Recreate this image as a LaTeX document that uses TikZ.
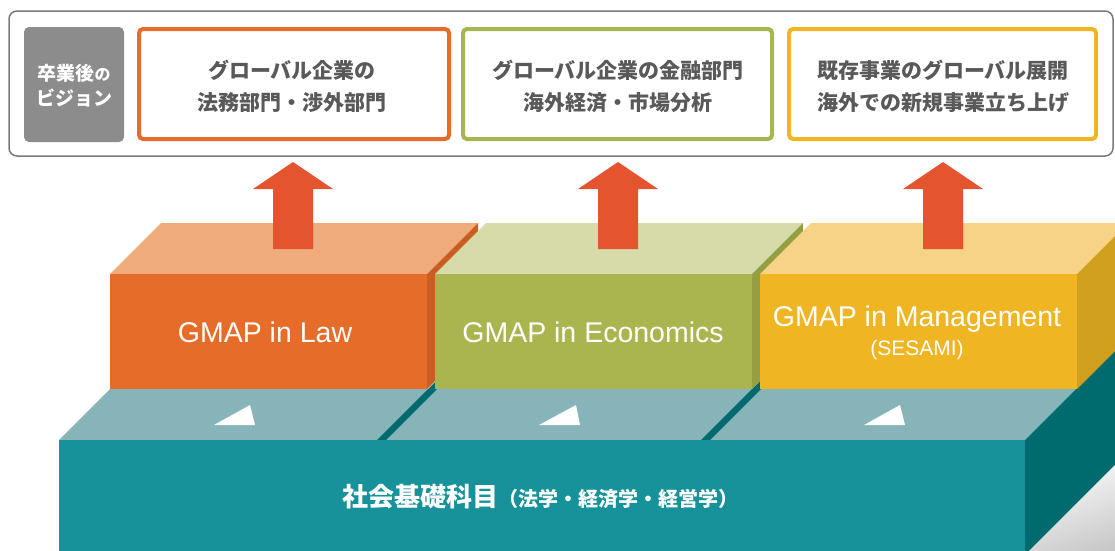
\documentclass[tikz,border=0pt]{standalone}
\usepackage{fontspec}
\setmainfont{Liberation Sans}
\newfontfamily\jp{Noto Sans CJK JP}
\definecolor{outline}{HTML}{7A7A7A}
\definecolor{visiongray}{HTML}{8C8C8C}
\definecolor{txtgray}{HTML}{595959}
\definecolor{lawline}{HTML}{E66C2C}
\definecolor{ecoline}{HTML}{A9B650}
\definecolor{mgtline}{HTML}{EFB523}
\definecolor{arrowred}{HTML}{E3542F}
\definecolor{lawfront}{HTML}{E66C2A}
\definecolor{lawtop}{HTML}{F0AC7C}
\definecolor{lawside}{HTML}{C85E22}
\definecolor{ecofront}{HTML}{ABB54F}
\definecolor{ecotop}{HTML}{D6DBA9}
\definecolor{ecoside}{HTML}{959E41}
\definecolor{mgtfront}{HTML}{EFB522}
\definecolor{mgttop}{HTML}{F6D386}
\definecolor{mgtside}{HTML}{D09F1E}
\definecolor{tealfront}{HTML}{17929A}
\definecolor{tealtop}{HTML}{86B4B8}
\definecolor{tealdark}{HTML}{006B6E}
\begin{document}
\begin{tikzpicture}[x=1pt,y=-1pt,
  goalbox/.style={draw=#1, line width=4pt, rounded corners=4pt, fill=white},
  goaltext/.style={font=\jp\bfseries\fontsize{21}{25}\selectfont, text=txtgray, inner sep=0pt},
  visiontext/.style={font=\jp\bfseries\fontsize{19}{23}\selectfont, text=white, inner sep=0pt},
  gmaptext/.style={font=\fontsize{28.5}{33}\selectfont, text=white, inner sep=0pt},
  subtext/.style={font=\fontsize{21}{25}\selectfont, text=white, inner sep=0pt},
  basetext/.style={font=\jp\bfseries, text=white, inner sep=0pt},
  uparrow/.style={fill=arrowred},
  marker/.style={fill=white}
]
\useasboundingbox (0,0) rectangle (1115,550);
\clip (0,0) rectangle (1115,550);

% ---------- top vision panel ----------
\draw[outline, line width=1.5pt, rounded corners=8pt] (9,11) rectangle (1113,156);
\fill[visiongray, rounded corners=5pt] (24,27) rectangle (124,142);
\node[visiontext] (v1) at (74,73) {卒業後{\fontsize{16}{19}\selectfont の}};
\node[visiontext] (v2) at (74,98) {ビジョン};

\draw[goalbox=lawline] (139,29) rectangle (449,139);
\draw[goalbox=ecoline] (463,29) rectangle (772,139);
\draw[goalbox=mgtline] (789,29) rectangle (1096,139);

\node[goaltext] (g1a) at (292,70) {グローバル企業の};
\node[goaltext] (g1b) at (292,103) {法務部門・渉外部門};
\node[goaltext] (g2a) at (618,70) {グローバル企業の金融部門};
\node[goaltext] (g2b) at (618,103) {海外経済・市場分析};
\node[goaltext] (g3a) at (943,70) {既存事業のグローバル展開};
\node[goaltext] (g3b) at (943,103) {海外での新規事業立ち上げ};

% ---------- base slab ----------
\fill[tealtop] (59,440) -- (110,389) -- (1076,389) -- (1025,440) -- cycle;
\fill[tealdark] (377,440) -- (447,370) -- (456,370) -- (386,440) -- cycle;
\fill[tealdark] (701,440) -- (771,370) -- (780,370) -- (710,440) -- cycle;
\fill[tealfront] (59,440) rectangle (1025,560);
\fill[tealdark] (1025,440) -- (1225,240) -- (1225,355) -- (1025,555) -- cycle;
\shade[top color=white, bottom color=black!22, shading angle=20]
  (1025,555) -- (1125,455) -- (1125,560) -- (1025,560) -- cycle;

\fill[marker] (214,425) -- (255,425) -- (250,405) -- cycle;
\fill[marker] (539,425) -- (580,425) -- (576,405) -- cycle;
\fill[marker] (864,425) -- (905,425) -- (900,405) -- cycle;

% ---------- GMAP blocks ----------
\foreach \xl/\fr/\tp/\sd in {110/lawfront/lawtop/lawside, 435/ecofront/ecotop/ecoside, 760/mgtfront/mgttop/mgtside}{
  \fill[\tp] (\xl,274) -- ({\xl+51},223) -- ({\xl+368},223) -- ({\xl+317},274) -- cycle;
  \fill[\sd] ({\xl+317},274) -- ({\xl+368},223) -- ({\xl+368},338) -- ({\xl+317},389) -- cycle;
  \fill[\fr] (\xl,274) rectangle ({\xl+317},389);
}

\node[gmaptext] (law) at (265,332) {GMAP in Law};
\node[gmaptext] (eco) at (593,332) {GMAP in Economics};
\node[gmaptext] (mgt) at (917,319) {GMAP in Management};
\node[subtext] (ses) at (917,350) {(SESAMI)};

\node[basetext, anchor=west] (base) at (342,497)
  {{\fontsize{26}{30}\selectfont 社会基礎科目}{\fontsize{20}{24}\selectfont （法学・経済学・経営学）}};

% ---------- arrows ----------
\foreach \c in {293,618,943}{
  \fill[uparrow] ({\c-20},249) -- ({\c-20},189) -- ({\c-40},189) -- (\c,162)
     -- ({\c+40},189) -- ({\c+20},189) -- ({\c+20},249) -- cycle;
}
\end{tikzpicture}
\end{document}
